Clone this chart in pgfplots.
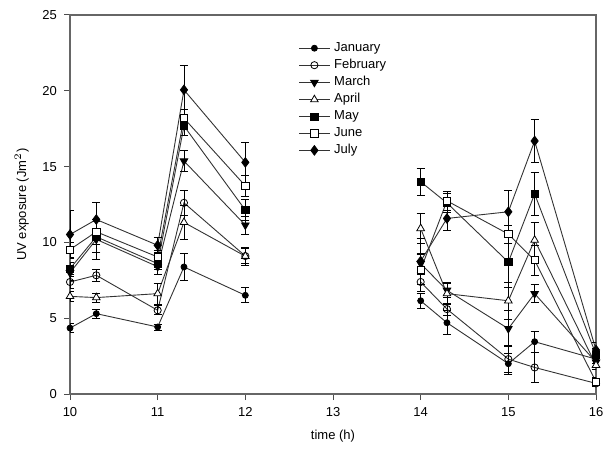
\documentclass[border=0pt]{standalone}
\usepackage{fontspec}
\setmainfont{Liberation Sans}
\usepackage{pgfplots}
\pgfplotsset{compat=1.18}
\pgfplotsset{
  eb/.style={
    /pgfplots/error bars/y dir=both,
    /pgfplots/error bars/y explicit,
    /pgfplots/error bars/error bar style={line width=0.4pt, black},
    /pgfplots/error bars/error mark options={rotate=90, mark size=2pt, line width=0.4pt, black},
  },
  ser/.style={line width=0.45pt, black!80, eb},
}
\begin{document}
\begin{tikzpicture}[font=\fontsize{6.5}{8}\selectfont]
\begin{axis}[
  scale only axis, width=263pt, height=189.5pt,
  xmin=10, xmax=16, ymin=0, ymax=25,
  xtick={10,11,...,16}, ytick={0,5,...,25},
  tick align=outside, xtick pos=bottom, ytick pos=left,
  axis line style={black!60, line width=0.6pt},
  tick style={black!70, line width=0.5pt}, major tick length=3pt,
  xlabel={time (h)}, ylabel={UV exposure (Jm$^{2}$)},
  /pgf/number format/assume math mode=true,
  unbounded coords=jump,
  legend style={at={(0.43,0.945)}, anchor=north west, draw=none, fill=none,
    font=\fontsize{6.5}{7.5}\selectfont, row sep=-1.6pt, inner sep=1pt},
  legend cell align=left,
  legend image code/.code={\draw[mark repeat=2,mark phase=2] plot coordinates {(0cm,0cm) (0.27cm,0cm) (0.54cm,0cm)};},
]
% January
\addplot[ser, mark=*, mark size=1.5pt, mark options={solid, black, fill=black, line width=0.4pt}] coordinates {
 (10,4.35) +- (0,0.3) (10.3,5.3) +- (0,0.3) (11,4.42) +- (0,0.2) (11.3,8.38) +- (0,0.9) (12,6.51) +- (0,0.5)
 (13,nan)
 (14,6.15) +- (0,0.5) (14.3,4.7) +- (0,0.8) (15,2.0) +- (0,0.7) (15.3,3.45) +- (0,0.7) (16,2.3) +- (0,0.3)};
\addlegendentry{January}
% February
\addplot[ser, mark=o, mark size=1.8pt, mark options={solid, black, fill=white, line width=0.4pt}] coordinates {
 (10,7.39) +- (0,0.4) (10.3,7.83) +- (0,0.4) (11,5.52) +- (0,0.3) (11.3,12.61) +- (0,0.8) (12,9.1) +- (0,0.5)
 (13,nan)
 (14,7.39) +- (0,0.6) (14.3,5.6) +- (0,0.4) (15,2.3) +- (0,0.9) (15.3,1.75) +- (0,1.0) (16,0.7) +- (0,0.2)};
\addlegendentry{February}
% March
\addplot[ser, mark=triangle*, mark size=2.2pt, mark options={solid, black, fill=black, rotate=180, line width=0.4pt}] coordinates {
 (10,8.0) +- (0,0.5) (10.3,10.2) +- (0,1.3) (11,8.4) +- (0,0.5) (11.3,15.37) +- (0,0.7) (12,11.14) +- (0,0.6)
 (13,nan)
 (14,8.6) +- (0,0.7) (14.3,6.84) +- (0,0.5) (15,4.31) +- (0,1.2) (15.3,6.62) +- (0,0.6) (16,2.1) +- (0,0.3)};
\addlegendentry{March}
% April
\addplot[ser, mark=triangle*, mark size=2.2pt, mark options={solid, black, fill=white, line width=0.4pt}] coordinates {
 (10,6.44) +- (0,0.3) (10.3,6.36) +- (0,0.3) (11,6.62) +- (0,0.7) (11.3,11.32) +- (0,1.1) (12,9.09) +- (0,0.6)
 (13,nan)
 (14,10.92) +- (0,1.0) (14.3,6.62) +- (0,0.7) (15,6.15) +- (0,1.2) (15.3,10.15) +- (0,1.2) (16,1.9) +- (0,0.3)};
\addlegendentry{April}
% May
\addplot[ser, mark=square*, mark size=1.8pt, mark options={solid, black, fill=black, line width=0.4pt}] coordinates {
 (10,8.27) +- (0,0.4) (10.3,10.37) +- (0,1.0) (11,8.6) +- (0,0.4) (11.3,17.68) +- (0,0.6) (12,12.13) +- (0,0.7)
 (13,nan)
 (14,14.0) +- (0,0.9) (14.3,12.6) +- (0,0.6) (15,8.7) +- (0,1.7) (15.3,13.2) +- (0,1.4) (16,2.6) +- (0,0.4)};
\addlegendentry{May}
% June
\addplot[ser, mark=square*, mark size=1.8pt, mark options={solid, black, fill=white, line width=0.4pt}] coordinates {
 (10,9.53) +- (0,0.5) (10.3,10.7) +- (0,0.8) (11,9.04) +- (0,0.4) (11.3,18.19) +- (0,0.6) (12,13.73) +- (0,0.7)
 (13,nan)
 (14,8.2) +- (0,1.0) (14.3,12.74) +- (0,0.6) (15,10.55) +- (0,0.6) (15.3,8.82) +- (0,1.0) (16,0.8) +- (0,0.3)};
\addlegendentry{June}
% July
\addplot[ser, mark=diamond*, mark size=2.4pt, mark options={solid, black, fill=black, line width=0.4pt}] coordinates {
 (10,10.52) +- (0,1.6) (10.3,11.51) +- (0,1.1) (11,9.81) +- (0,0.5) (11.3,20.06) +- (0,1.6) (12,15.28) +- (0,1.3)
 (13,nan)
 (14,8.76) +- (0,1.5) (14.3,11.58) +- (0,0.8) (15,12.02) +- (0,1.4) (15.3,16.69) +- (0,1.4) (16,2.9) +- (0,0.5)};
\addlegendentry{July}
\end{axis}
\path ([xshift=-35pt,yshift=-29.5pt]current axis.south west) rectangle ([xshift=7.5pt,yshift=7.5pt]current axis.north east);
\end{tikzpicture}
\end{document}
